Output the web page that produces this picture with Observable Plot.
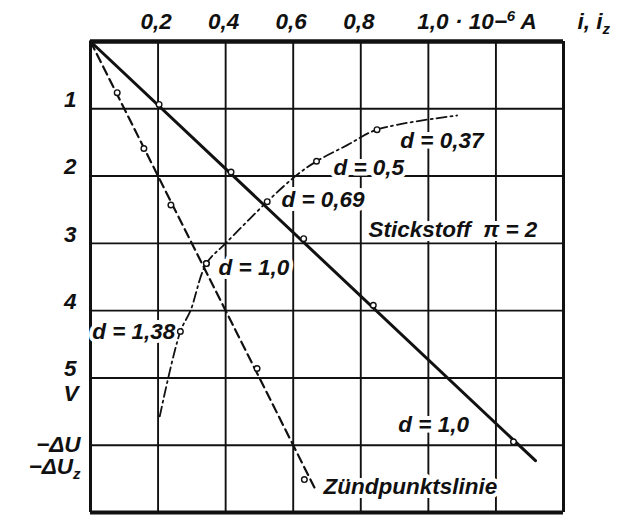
<!DOCTYPE html>
<html><head><meta charset="utf-8">
<script src="https://cdn.jsdelivr.net/npm/d3@7"></script>
<script src="https://cdn.jsdelivr.net/npm/@observablehq/plot@0.6"></script>
<style>body{margin:0;background:#fff}</style>
</head><body><div id="chart"></div>
<script>
// axis ticks
const xTicks = [0.2, 0.4, 0.6, 0.8, 1.0];
const xTickLabels = ["0,2", "0,4", "0,6", "0,8", "1,0 · 10−^{6} A"];
const xGrid = [0.2, 0.4, 0.6, 0.8, 1.0, 1.2];
const yTicks = [1, 2, 3, 4, 5];
const yTickLabels = ["1", "2", "3", "4", "5"];
const yGrid = [1, 2, 3, 4, 5, 6];
// solid line (d = 1,0) and its measured points
const solidLineX = [0, 1.317];
const solidLineY = [0, 6.23];
const solidPtsX = [0.203, 0.416, 0.631, 0.837, 1.252];
const solidPtsY = [0.935, 1.94, 2.93, 3.92, 5.95];
// Zündpunktslinie (dashed) and its points
const zuendLineX = [0, 0.665];
const zuendLineY = [0, 6.65];
const zuendPtsX = [0.079, 0.158, 0.238, 0.343, 0.493, 0.633];
const zuendPtsY = [0.76, 1.59, 2.43, 3.30, 4.86, 6.51];
// dash-dot curve through d-points
const curveX = [0.205, 0.266, 0.296, 0.343, 0.402, 0.523, 0.607, 0.669, 0.76, 0.848, 1.085];
const curveY = [5.57, 4.31, 4.0, 3.30, 2.99, 2.38, 2.0, 1.78, 1.54, 1.31, 1.10];
const dPtsX = [0.848, 0.669, 0.523, 0.343, 0.266];
const dPtsY = [1.31, 1.78, 2.38, 3.30, 4.31];
// annotations
const noteText = ["d = 0,37", "d = 0,5", "d = 0,69", "Stickstoff\u00a0\u00a0π = 2", "d = 1,0", "d = 1,38", "d = 1,0", "Zündpunktslinie"];
const noteX = [0.917, 0.719, 0.565, 0.823, 0.379, 0.005, 0.911, 0.69];
const noteY = [1.48, 1.87, 2.36, 2.80, 3.37, 4.32, 5.70, 6.62];

const zip = (xs, ys) => xs.map((x, i) => ({x, y: ys[i]}));
const font = {fontFamily: "'Liberation Sans', Arial, sans-serif", fontStyle: "italic", fontWeight: "bold", fontSize: 22.5, fill: "#111"};
const ink = "#111";

const xTickData = xTicks.map((x, i) => ({x, label: xTickLabels[i], last: i === xTicks.length - 1}));
const yTickData = yTicks.map((y, i) => ({y, label: yTickLabels[i]}));
const notes = noteText.map((t, i) => ({t, x: noteX[i], y: noteY[i]}));

const chart = Plot.plot({
  width: 624, height: 517,
  marginLeft: 90, marginRight: 61, marginTop: 41, marginBottom: 5,
  x: {domain: [0, 1.4], axis: null},
  y: {domain: [0, 7], reverse: true, axis: null},
  marks: [
    Plot.ruleX(xGrid, {stroke: ink, strokeWidth: 1.9}),
    Plot.ruleY(yGrid, {stroke: ink, strokeWidth: 1.9}),
    Plot.ruleX([0], {stroke: ink, strokeWidth: 3}),
    Plot.ruleX([1.4], {stroke: ink, strokeWidth: 3}),
    Plot.ruleY([0], {stroke: ink, strokeWidth: 4.5}),
    Plot.ruleY([7], {stroke: ink, strokeWidth: 4}),
    // annotations with white halo (hides grid like the original label boxes)
    Plot.text(notes, {x: "x", y: "y", text: "t", textAnchor: "start", lineAnchor: "middle", stroke: "white", strokeWidth: 8, ...font}),
    // top tick labels
    Plot.text(xTickData.filter(d => !d.last), {x: "x", y: 0, text: "label", textAnchor: "middle", lineAnchor: "bottom", dy: -13, dx: -2, ...font}),
    Plot.text(xTickData.filter(d => d.last), {x: "x", y: 0, text: "label", textAnchor: "start", lineAnchor: "bottom", dy: -13, dx: -11, ...font}),
    Plot.text(["i, i_{z}"], {x: 1.4, y: 0, text: d => d, textAnchor: "start", lineAnchor: "bottom", dy: -13, dx: 14, ...font}),
    // left tick labels
    Plot.text(yTickData, {x: 0, y: "y", text: "label", textAnchor: "end", lineAnchor: "middle", dx: -14, dy: -9, ...font}),
    Plot.text(["V"], {x: 0, y: 5, text: d => d, textAnchor: "end", lineAnchor: "middle", dx: -12, dy: 16, ...font}),
    Plot.text(["−ΔU"], {x: 0, y: 6, text: d => d, textAnchor: "end", lineAnchor: "middle", dx: -10, dy: 0, ...font}),
    Plot.text(["−ΔU_{z}"], {x: 0, y: 6, text: d => d, textAnchor: "end", lineAnchor: "middle", dx: -10, dy: 22, ...font}),
    // lines
    Plot.line(zip(solidLineX, solidLineY), {x: "x", y: "y", stroke: ink, strokeWidth: 3}),
    Plot.line(zip(zuendLineX, zuendLineY), {x: "x", y: "y", stroke: ink, strokeWidth: 2.2, strokeDasharray: "9,5"}),
    Plot.line(zip(curveX, curveY), {x: "x", y: "y", stroke: ink, strokeWidth: 1.8, strokeDasharray: "10,4,2,4", curve: "catmull-rom"}),
    // points
    Plot.dot(zip(solidPtsX, solidPtsY), {x: "x", y: "y", r: 2.8, stroke: ink, strokeWidth: 1.4, fill: "white"}),
    Plot.dot(zip(zuendPtsX, zuendPtsY), {x: "x", y: "y", r: 2.8, stroke: ink, strokeWidth: 1.4, fill: "white"}),
    Plot.dot(zip(dPtsX, dPtsY), {x: "x", y: "y", r: 2.8, stroke: ink, strokeWidth: 1.4, fill: "white"})
  ]
});

// render ^{..} / _{..} as super/subscripts
function rich(svg) {
  svg.querySelectorAll("text").forEach(t => {
    const s = t.textContent;
    if (!/[\^_]\{/.test(s)) return;
    t.textContent = "";
    const add = (txt, dy, size) => {
      const ts = document.createElementNS("http://www.w3.org/2000/svg", "tspan");
      ts.textContent = txt;
      if (dy) ts.setAttribute("dy", dy);
      if (size) ts.setAttribute("font-size", size);
      t.appendChild(ts);
    };
    const re = /([\^_])\{([^}]*)\}/g;
    let last = 0, m, shift = 0;
    while ((m = re.exec(s))) {
      if (m.index > last) { add(s.slice(last, m.index), -shift); shift = 0; }
      const d = m[1] === "^" ? -8 : 5;
      add(m[2], d - shift, "15px");
      shift = d;
      last = re.lastIndex;
    }
    if (last < s.length) add(s.slice(last), -shift);
  });
}
rich(chart);
document.getElementById("chart").appendChild(chart);
</script>
</body></html>
